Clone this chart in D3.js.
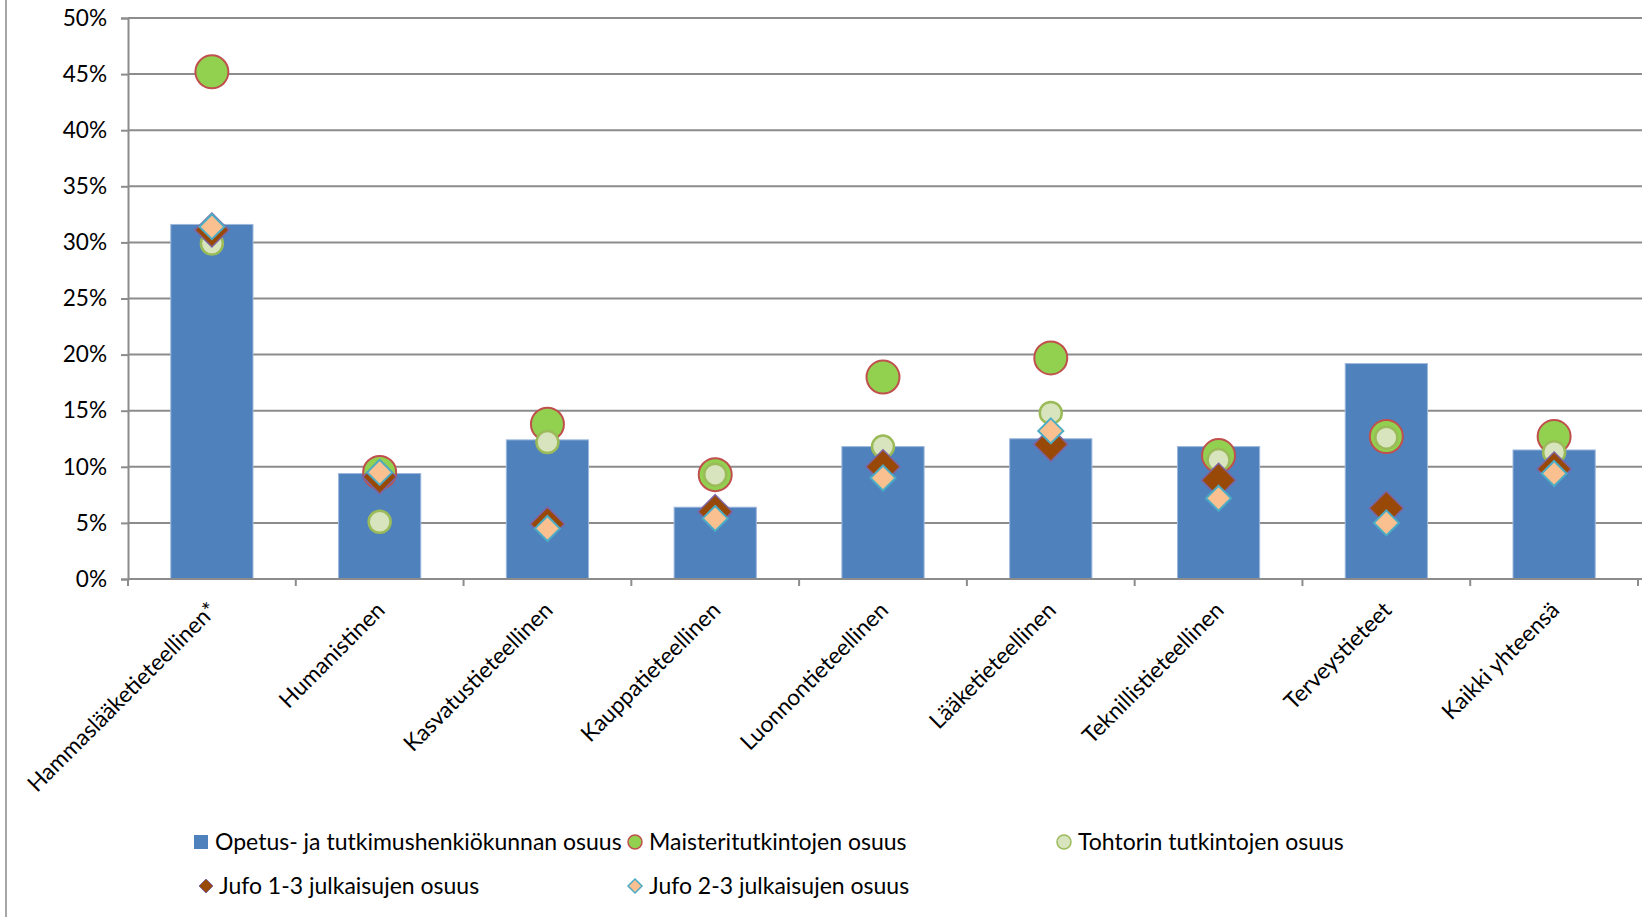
<!doctype html>
<html>
<head>
<meta charset="UTF-8">
<title>osuudet</title>
<script src="https://d3js.org/d3.v7.min.js"></script>
<style>
  body{ margin:0; background:#fff; }
  text{ font-family: Lato, "Open Sans", sans-serif; fill:#000; }
</style>
</head>
<body>
<svg id="chart" width="1642" height="917"></svg>
<script>
var categories = ["Hammaslääketieteellinen*","Humanistinen","Kasvatustieteellinen","Kauppatieteellinen",
  "Luonnontieteellinen","Lääketieteellinen","Teknillistieteellinen","Terveystieteet","Kaikki yhteensä"];
var henkilokunta = [0.316,0.094,0.124,0.064,0.118,0.125,0.118,0.192,0.115];
var maisteri     = [0.452,0.095,0.138,0.093,0.180,0.197,0.110,0.127,0.127];
var tohtori      = [0.299,0.051,0.122,0.093,0.118,0.148,0.106,0.126,0.113];
var jufo13       = [0.311,0.091,0.049,0.060,0.100,0.120,0.088,0.063,0.098];
var jufo23       = [0.314,0.095,0.045,0.054,0.090,0.132,0.072,0.050,0.094];
var yTicks = [0,0.05,0.10,0.15,0.20,0.25,0.30,0.35,0.40,0.45,0.50];
var legendNames = ["Opetus- ja tutkimushenkiökunnan osuus","Maisteritutkintojen osuus",
  "Tohtorin tutkintojen osuus","Jufo 1-3 julkaisujen osuus","Jufo 2-3 julkaisujen osuus"];

var svg = d3.select("#chart");
var pLeft = 128, pRight = 1638, pTop = 18, pBottom = 579;

var x = d3.scaleBand().domain(categories).range([pLeft, pRight]).paddingInner(0.51).paddingOuter(0.255);
var y = d3.scaleLinear().domain([0,0.5]).range([pBottom, pTop]);

// frame line at the left edge
svg.append("line").attr("x1",6).attr("x2",6).attr("y1",0).attr("y2",917)
  .attr("stroke","#a6a6a6").attr("stroke-width",2);

// gridlines
svg.append("g").selectAll("line").data(yTicks.slice(1)).enter().append("line")
  .attr("x1",pLeft).attr("x2",1642).attr("y1",function(d){return y(d);}).attr("y2",function(d){return y(d);})
  .attr("stroke","#8c8c8c").attr("stroke-width",2);

// y axis
var yAxis = d3.axisLeft(y).tickValues(yTicks).tickFormat(d3.format(".0%")).tickSize(7).tickPadding(14);
var gy = svg.append("g").attr("transform","translate("+pLeft+",0)").call(yAxis);
gy.select(".domain").attr("stroke","#8c8c8c").attr("stroke-width",2);
gy.selectAll(".tick line").attr("stroke","#8c8c8c").attr("stroke-width",2);
gy.selectAll(".tick text").attr("font-size",22.6).attr("font-family","Lato, sans-serif").attr("fill","#000");

// bars
svg.append("g").selectAll("rect").data(henkilokunta).enter().append("rect")
  .attr("x",function(d,i){return x(categories[i]);})
  .attr("y",function(d){return y(d);})
  .attr("width",x.bandwidth())
  .attr("height",function(d){return y(0)-y(d);})
  .attr("fill","#4f81bd").attr("stroke","#9db8dc").attr("stroke-width",1);

// x axis baseline and ticks at band boundaries
var half = (x.step()-x.bandwidth())/2;
var bounds = categories.map(function(c){return x(c)-half;}).concat([x(categories[categories.length-1])+x.bandwidth()+half]);
svg.append("line").attr("x1",pLeft).attr("x2",1642).attr("y1",y(0)).attr("y2",y(0))
  .attr("stroke","#8c8c8c").attr("stroke-width",2);
svg.append("g").selectAll("line").data(bounds).enter().append("line")
  .attr("x1",function(d){return d;}).attr("x2",function(d){return d;})
  .attr("y1",y(0)).attr("y2",y(0)+7).attr("stroke","#8c8c8c").attr("stroke-width",2);

// category labels
svg.append("g").selectAll("text").data(categories).enter().append("text")
  .attr("transform",function(d){return "translate("+(x(d)+x.bandwidth()/2+1)+","+(y(0)+27)+") rotate(-45)";})
  .attr("text-anchor","end").attr("dy","0.35em").attr("font-size",22.6).text(function(d){return d;});

function cx(i){ return x(categories[i])+x.bandwidth()/2; }
function diamond(r){ return "M0,"+(-r)+"L"+r+",0L0,"+r+"L"+(-r)+",0Z"; }

// Maisteri circles
svg.append("g").selectAll("circle").data(maisteri).enter().append("circle")
  .attr("cx",function(d,i){return cx(i);}).attr("cy",function(d){return y(d);}).attr("r",16.5)
  .attr("fill","#92d050").attr("stroke","#c0504d").attr("stroke-width",2);
// Tohtori circles
svg.append("g").selectAll("circle").data(tohtori).enter().append("circle")
  .attr("cx",function(d,i){return cx(i);}).attr("cy",function(d){return y(d);}).attr("r",11)
  .attr("fill","#d7e4bd").attr("stroke","#9bbb59").attr("stroke-width",2.5);
// Jufo 1-3
svg.append("g").selectAll("path").data(jufo13).enter().append("path")
  .attr("transform",function(d,i){return "translate("+cx(i)+","+y(d)+")";})
  .attr("d",diamond(17)).attr("fill","#984807").attr("stroke","#8064a2").attr("stroke-width",1.5);
// Jufo 2-3
svg.append("g").selectAll("path").data(jufo23).enter().append("path")
  .attr("transform",function(d,i){return "translate("+cx(i)+","+y(d)+")";})
  .attr("d",diamond(12.5)).attr("fill","#fac090").attr("stroke","#4bacc6").attr("stroke-width",2);

// legend
var legendPos = [[201,842],[635,842],[1064,842],[206,886],[635,886]];
var lg = svg.append("g");
legendPos.forEach(function(p,i){
  var g = lg.append("g").attr("transform","translate("+p[0]+","+p[1]+")");
  if(i===0){
    g.append("rect").attr("x",-7).attr("y",-7).attr("width",14).attr("height",14).attr("fill","#4f81bd");
  } else if(i===1){
    g.append("circle").attr("r",7).attr("fill","#92d050").attr("stroke","#c0504d").attr("stroke-width",1.5);
  } else if(i===2){
    g.append("circle").attr("r",7).attr("fill","#d7e4bd").attr("stroke","#9bbb59").attr("stroke-width",1.5);
  } else if(i===3){
    g.append("path").attr("d",diamond(7)).attr("fill","#984807").attr("stroke","#8064a2").attr("stroke-width",1);
  } else {
    g.append("path").attr("d",diamond(7)).attr("fill","#fac090").attr("stroke","#4bacc6").attr("stroke-width",1.5);
  }
  g.append("text").attr("x",i===3?13:14).attr("y",0).attr("dy","0.35em").attr("font-size",23).text(legendNames[i]);
});
</script>
</body>
</html>
